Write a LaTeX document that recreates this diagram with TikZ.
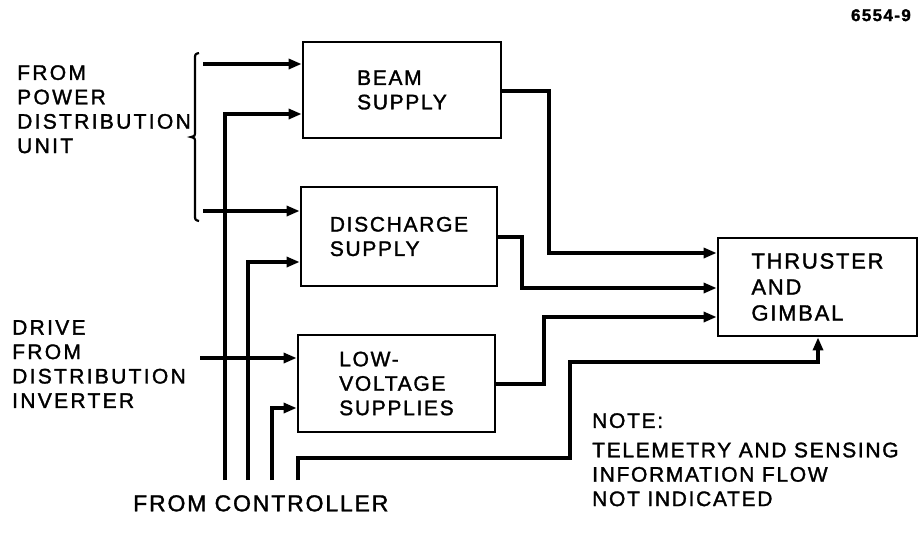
\documentclass[tikz,border=0pt]{standalone}
\usepackage{fontspec}
\setmainfont{Liberation Sans}[LetterSpace=8,FakeBold=1.5]
\usetikzlibrary{arrows.meta}
\begin{document}
\begin{tikzpicture}[x=1pt,y=-1pt,
  conn/.style={line width=3.2pt},
  arr/.style={conn,-{Triangle[length=13pt,width=10pt]}},
  blk/.style={draw,line width=2.8pt,align=left,inner sep=0,font=\fontsize{21}{24.4}\selectfont},
  lbl/.style={anchor=north west,align=left,inner sep=0,font=\fontsize{21}{24.4}\selectfont},
  widelbl/.style={lbl,font=\fontsize{21}{24.4}\selectfont\addfontfeatures{LetterSpace=11}}]
\useasboundingbox (0,0) rectangle (921,539);

% blocks
\node[blk,minimum width=198pt,minimum height=96pt] (beam) at (402,90) {BEAM\\SUPPLY};
\node[blk,minimum width=196pt,minimum height=99pt] (dis) at (399,236.5) {DISCHARGE\\SUPPLY};
\node[blk,minimum width=197pt,minimum height=97pt] (lv) at (396.5,383.5) {LOW-\\VOLTAGE\\SUPPLIES};
\node[blk,minimum width=199pt,minimum height=98pt,font=\fontsize{22}{26}\selectfont] (thr) at (817.5,287) {THRUSTER\\AND\\GIMBAL};

% labels
\node[widelbl] (pdu) at (17,65) {FROM\\POWER\\DISTRIBUTION\\UNIT};
\node[widelbl] (drv) at (12,320) {DRIVE\\FROM\\DISTRIBUTION\\INVERTER};
\node[lbl,font=\fontsize{23}{26}\selectfont] (ctl) at (133,495) {FROM CONTROLLER};
\node[lbl] (note) at (592,413) {NOTE:\\[5pt]TELEMETRY AND SENSING\\INFORMATION FLOW\\NOT INDICATED};
\node[anchor=north east,inner sep=0,font=\fontsize{17}{20}\selectfont\bfseries] (fig) at (911,9) {6554-9};

% brace
\draw[line width=2.2pt] (199,53) .. controls (195,54) .. (195,60) -- (195,131)
  .. controls (195,136) .. (191,137) .. controls (195,138) .. (195,143) -- (195,214)
  .. controls (195,220) .. (199,221);

% free ends and bends
\coordinate (p1) at (203,64);
\coordinate (p2) at (203,211);
\coordinate (d1) at (200,358);
\coordinate (c1) at (225,480);
\coordinate (c2) at (248,480);
\coordinate (c3) at (272,480);
\coordinate (c4) at (298,480);
\coordinate (y114) at (0,114);
\coordinate (y262) at (0,262);
\coordinate (y408) at (0,408);

% inputs
\draw[arr] (p1) -- (p1 -| beam.west);
\draw[arr] (p2) -- (p2 -| dis.west);
\draw[arr] (d1) -- (d1 -| lv.west);
\draw[arr] (c1) |- (beam.west |- y114);
\draw[arr] (c2) |- (dis.west |- y262);
\draw[arr] (c3) |- (lv.west |- y408);

% outputs
\coordinate (b1) at (549,91);
\coordinate (b2) at (549,253);
\draw[arr] (beam.east |- b1) -- (b1) -- (b2) -- (b2 -| thr.west);
\coordinate (e1) at (522,237);
\coordinate (e2) at (522,288);
\draw[arr] (dis.east |- e1) -- (e1) -- (e2) -- (e2 -| thr.west);
\coordinate (l1) at (544,384);
\coordinate (l2) at (544,317);
\draw[arr] (lv.east |- l1) -- (l1) -- (l2) -- (l2 -| thr.west);
\coordinate (t1) at (298,458);
\coordinate (t2) at (570,458);
\coordinate (t3) at (570,362);
\coordinate (t4) at (818,362);
\draw[arr] (c4) -- (t1) -- (t2) -- (t3) -- (t4) -- (t4 |- thr.south);
\end{tikzpicture}
\end{document}
